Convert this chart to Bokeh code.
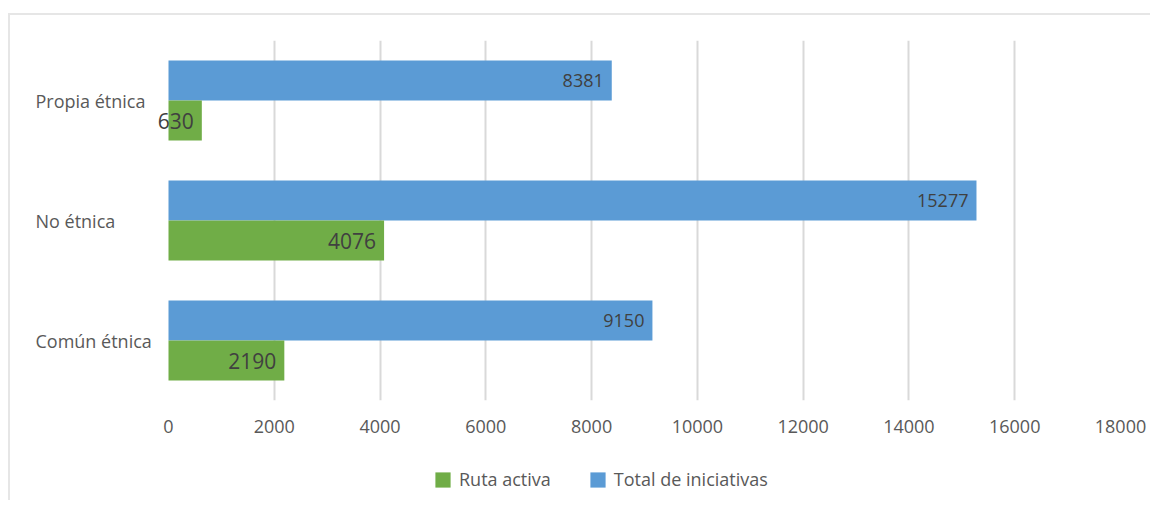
from bokeh.plotting import figure
from bokeh.layouts import column
from bokeh.models import FactorRange, FixedTicker, ColumnDataSource, Legend, LegendItem, Range1d
from bokeh.transform import dodge
from bokeh.core.properties import value
from bokeh.embed import file_html
from bokeh.resources import INLINE

# ---- data ----
categories = ["Común étnica", "No étnica", "Propia étnica"]   # bottom -> top
ruta_activa = [2190, 4076, 630]
total_iniciativas = [9150, 15277, 8381]
x_ticks = [0, 2000, 4000, 6000, 8000, 10000, 12000, 14000, 16000, 18000]
series_names = ["Ruta activa", "Total de iniciativas"]

GREEN = "#70ad47"
BLUE = "#5b9bd5"
FONT = "Open Sans"

# layout (page pixels)
OX, OY = 10, 15
W = 1140
H_MAIN = 445
H_LEG = 40
FRAME_L, FRAME_R, FRAME_T, FRAME_B = 20, 1120, 40, 400
ZERO_PX = 168
X_MAX = 18000
x_start = -X_MAX * (ZERO_PX - FRAME_L) / (FRAME_R - ZERO_PX)

src = ColumnDataSource(dict(
    cat=categories,
    ruta=ruta_activa,
    total=total_iniciativas,
    ruta_lbl=[str(v) for v in ruta_activa],
    total_lbl=[str(v) for v in total_iniciativas],
    zero=[0] * len(categories),
))

p = figure(
    width=W, height=H_MAIN,
    y_range=FactorRange(*categories),
    x_range=Range1d(x_start, X_MAX),
    output_backend="svg", toolbar_location=None,
    y_axis_location=None,
    min_border_left=FRAME_L - OX,
    min_border_right=(OX + W) - FRAME_R,
    min_border_top=FRAME_T - OY,
    min_border_bottom=(OY + H_MAIN) - FRAME_B,
)
p.outline_line_color = None
p.background_fill_color = "white"
p.border_fill_color = "white"

BH = 1 / 3.0
p.hbar(y=dodge("cat", BH / 2, range=p.y_range), left=0, right="total",
       height=BH, source=src, fill_color=BLUE, line_color=None)
p.hbar(y=dodge("cat", -BH / 2, range=p.y_range), left=0, right="ruta",
       height=BH, source=src, fill_color=GREEN, line_color=None)

# value labels (inside end)
p.text(x="total", y=dodge("cat", BH / 2, range=p.y_range), text="total_lbl", source=src,
       x_offset=-8, text_align="right", text_baseline="middle",
       text_font=value(FONT), text_font_size="18px", text_color="#404040")
p.text(x="ruta", y=dodge("cat", -BH / 2, range=p.y_range), text="ruta_lbl", source=src,
       x_offset=-8, text_align="right", text_baseline="middle",
       text_font=value(FONT), text_font_size="21px", text_color="#404040")

# category labels (left aligned)
p.text(x="zero", y="cat", text="cat", source=src,
       x_offset=-(ZERO_PX - 35), text_align="left", text_baseline="middle",
       text_font=value(FONT), text_font_size="18px", text_color="#595959")

# axes / grid
xa = p.xaxis[0]
xa.ticker = FixedTicker(ticks=x_ticks)
xa.axis_line_color = None
xa.major_tick_line_color = None
xa.minor_tick_line_color = None
xa.major_tick_out = 0
xa.major_tick_in = 0
xa.major_label_standoff = 19
xa.major_label_text_font = FONT
xa.major_label_text_font_size = "18px"
xa.major_label_text_color = "#595959"

p.xgrid.ticker = FixedTicker(ticks=x_ticks[1:])
p.xgrid.grid_line_color = "#d9d9d9"
p.xgrid.grid_line_width = 2
p.ygrid.visible = False

# ---- legend strip (separate small figure below the chart) ----
q = figure(width=W, height=H_LEG, x_range=Range1d(0, W), y_range=Range1d(0, H_LEG),
           output_backend="svg", toolbar_location=None,
           x_axis_location=None, y_axis_location=None,
           min_border=0, min_border_left=0, min_border_right=0,
           min_border_top=0, min_border_bottom=0)
q.outline_line_color = None
q.xgrid.visible = False
q.ygrid.visible = False
q.background_fill_color = "white"
q.border_fill_color = "white"
# zero-size proxy bars, only used to draw the legend swatches
leg_src = ColumnDataSource(dict(y=[0], right=[0]))
g_ruta = q.hbar(y="y", right="right", left=0, height=0, source=leg_src,
                fill_color=GREEN, line_color=None)
g_total = q.hbar(y="y", right="right", left=0, height=0, source=leg_src,
                 fill_color=BLUE, line_color=None)

GLYPH = 19
legend = Legend(
    items=[LegendItem(label=series_names[0], renderers=[g_ruta]),
           LegendItem(label=series_names[1], renderers=[g_total])],
    orientation="horizontal",
    location=(413, 9),
    glyph_width=GLYPH, glyph_height=GLYPH, label_height=GLYPH,
    label_standoff=7, spacing=37, padding=0, margin=0,
    border_line_color=None, background_fill_alpha=0,
    label_text_font=FONT, label_text_font_size="18px", label_text_color="#595959",
)
q.add_layout(legend, "center")

layout = column(p, q, spacing=0)
layout.styles = {"border-top": "2px solid #e6e6e6", "border-left": "2px solid #e6e6e6",
                 "margin-top": "13px", "margin-left": "8px"}

open("out.html", "w").write(file_html(layout, INLINE))
